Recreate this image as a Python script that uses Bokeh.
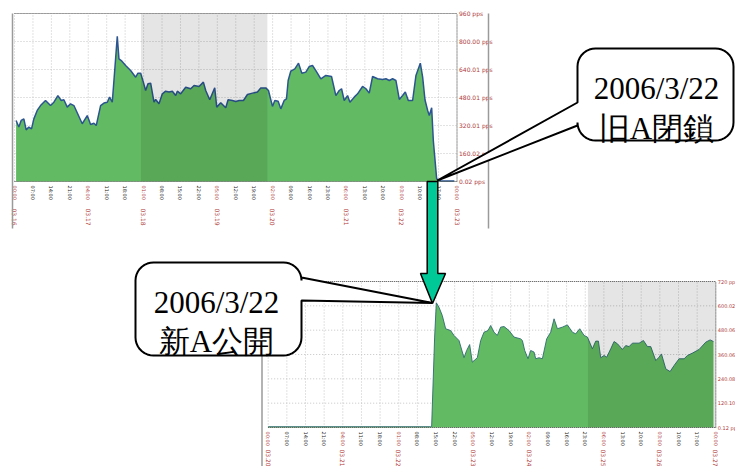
import numpy as np
from bokeh.plotting import figure
from bokeh.models import Range1d
from bokeh.core.properties import value
from bokeh.embed import file_html
from bokeh.resources import INLINE

# ---------------- data ----------------
TOP_HOURS = [0.6, 1.65, 2.53, 3.55, 4.43, 5.45, 6.46, 7.35, 8.62, 9.88, 11.78, 13.68, 14.95, 16.47,
             17.74, 18.75, 20.02, 21.29, 22.55, 25.72, 27.62, 28.89, 30.15, 31.04, 32.69, 33.96,
             35.22, 36.11, 37.12, 38.14, 39.02, 39.66, 40.54, 42.19, 44.09, 45.99, 46.88, 47.89,
             48.91, 49.79, 50.68, 51.69, 52.96, 53.59, 54.86, 56.13, 57.39, 58.66, 59.93, 61.19,
             61.83, 63.10, 65.00, 66.90, 68.17, 70.07, 71.71, 72.60, 74.12, 76.02, 76.78, 78.30,
             80.20, 81.09, 82.73, 84.00, 85.27, 86.92, 88.44, 90.34, 92.24, 93.50, 95.40, 96.42,
             97.94, 98.83, 100.09, 101.11, 102.38, 103.26, 103.90, 104.91, 106.43, 107.83, 109.09,
             110.61, 111.88, 113.14, 114.41, 116.31, 118.21, 120.36, 122.01, 123.28, 124.17,
             125.18, 126.45, 127.34, 128.98, 130.25, 132.15, 133.42, 134.68, 135.95, 137.85,
             139.75, 141.02, 142.29, 143.55, 144.82, 146.09, 147.36, 148.37, 149.51, 151.15,
             152.42, 154.07, 154.96, 155.84, 156.86, 157.49, 158.38, 159.01, 160.28, 161.9, 167.0]
TOP_VALUES = [349, 311, 349, 358, 295, 311, 301, 358, 406, 434, 463, 434, 453, 491,
              463, 467, 425, 444, 434, 330, 377, 326, 333, 320, 434, 448,
              453, 482, 453, 653, 829, 701, 691, 663, 634, 596, 619, 619,
              568, 520, 558, 562, 453, 469, 444, 501, 516, 511, 516, 491,
              516, 501, 539, 530, 549, 543, 568, 520, 467, 535, 425, 450,
              421, 467, 463, 457, 463, 463, 497, 505, 511, 535, 535, 520,
              429, 463, 459, 415, 463, 472, 577, 631, 644, 676, 619,
              625, 657, 663, 634, 587, 606, 600, 491, 520, 530,
              463, 491, 453, 482, 501, 543, 530, 505, 600, 587,
              583, 587, 577, 587, 577, 469, 491, 511, 463, 463,
              606, 676, 596, 467, 406, 377, 421, 234, 15, 3, 3]

BOT_HOURS = [0.0, 60.97, 61.34, 62.47, 63.10, 64.10, 65.35, 66.60, 68.48, 69.73, 71.61, 73.49,
             74.49, 75.61, 76.61, 78.49, 79.75, 81.00, 82.50, 83.50, 84.75, 86.00, 87.26, 88.51,
             90.39, 92.27, 94.77, 95.40, 96.27, 97.52, 98.52, 99.78, 100.40, 101.65, 102.91,
             104.53, 106.04, 107.29, 108.54, 110.42, 112.30, 114.17, 115.43, 116.93, 118.56,
             119.81, 121.68, 122.94, 123.94, 124.81, 126.07, 127.07, 128.57, 129.82, 131.08,
             132.95, 134.20, 135.46, 136.71, 139.21, 140.84, 142.34, 143.59, 145.47, 146.72,
             147.60, 149.23, 150.85, 152.36, 154.23, 156.11, 157.36, 159.24, 161.74, 164.25,
             165.87, 167.12]
BOT_VALUES = [4, 4, 4, 446, 615, 593, 552, 487, 478, 454, 429, 344,
              380, 409, 322, 344, 429, 470, 478, 503, 470, 454, 495, 498,
              478, 446, 437, 429, 380, 339, 380, 372, 339, 344, 339,
              437, 470, 536, 487, 495, 506, 470, 462, 487, 454,
              446, 388, 426, 426, 344, 355, 347, 388, 424, 413,
              385, 404, 399, 416, 416, 429, 399, 399, 330, 347,
              363, 289, 276, 306, 339, 339, 355, 367, 385, 421,
              432, 424]

TICK_HOURS = [0, 7, 14, 21, 28, 35, 42, 49, 56, 63, 70, 77, 84, 91, 98, 105, 112, 119,
              126, 133, 140, 147, 154, 161, 168]
TIME_LABELS = ["00:00", "07:00", "14:00", "21:00", "04:00", "11:00", "18:00", "01:00",
               "08:00", "15:00", "22:00", "05:00", "12:00", "19:00", "02:00", "09:00",
               "16:00", "23:00", "06:00", "13:00", "20:00", "03:00", "10:00", "17:00", "00:00"]
DAY_TICK_IDX = [0, 4, 7, 11, 14, 18, 21, 24]
TOP_DATES = ["03.16", "03.17", "03.18", "03.19", "03.20", "03.21", "03.22", "03.23"]
BOT_DATES = ["03.20", "03.21", "03.22", "03.23", "03.24", "03.25", "03.26", "03.27"]

TOP_Y_TICKS = [0, 160, 320, 480, 640, 800, 960]
TOP_Y_LABELS = ["0.02 pps", "160.02 pps", "320.01 pps", "480.01 pps", "640.01 pps",
                "800.00 pps", "960 pps"]
BOT_Y_TICKS = [0, 120, 240, 360, 480, 600, 720]
BOT_Y_LABELS = ["0.12 pps", "120.10 pps", "240.08 pps", "360.06 pps", "480.06 pps",
                "600.02 pps", "720 pps"]

TOP_WEEKEND = (48, 96)
BOT_WEEKEND = (120, 168)

# ---------------- page geometry (page pixels) ----------------
W, H = 735, 466
PX0, PX1 = 0, W
PY0, PY1 = 0, H

FILL = "#62bb62"
GRID = "#c4c4c4"
RED = "#b03a3a"

p = figure(width=W, height=H, x_range=Range1d(PX0, PX1), y_range=Range1d(PY1, PY0),
           x_axis_type=None, y_axis_type=None, toolbar_location=None,
           output_backend="svg", min_border=0, title=None)
p.outline_line_color = None
p.background_fill_color = "white"
p.border_fill_color = "white"


def fit(d0, d1, q0, q1, lo, hi):
    k = (d1 - d0) / (q1 - q0)
    return Range1d(start=d0 + (lo - q0) * k, end=d0 + (hi - q0) * k)


def chart(name, box, hours, vals, yticks, ylabels, dates, weekend, edge_c, edge_w, date_off,
          ylab_size):
    xl, xr, yb, yt = box
    ymax = yticks[-1]
    p.extra_x_ranges[name] = fit(0, 168, xl, xr, PX0, PX1)
    p.extra_y_ranges[name] = fit(0, ymax, yb, yt, PY1, PY0)
    kw = dict(x_range_name=name, y_range_name=name)
    # grid
    p.segment(x0=TICK_HOURS, x1=TICK_HOURS, y0=0, y1=ymax, line_color=GRID,
              line_dash="1 2", line_width=1, **kw)
    p.segment(x0=0, x1=168, y0=yticks, y1=yticks, line_color=GRID,
              line_dash="1 2", line_width=1, **kw)
    # area
    p.varea(x=hours, y1=0, y2=vals, fill_color=FILL, **kw)
    p.line(x=hours, y=vals, line_color=edge_c, line_width=edge_w, **kw)
    # weekend shading
    p.quad(left=weekend[0], right=weekend[1], bottom=0, top=ymax, fill_color="black",
           fill_alpha=0.1, line_color=None, **kw)
    # borders
    p.segment(x0=[0, 0, 168], x1=[168, 168, 168], y0=[ymax, 0, 0], y1=[ymax, 0, ymax],
              line_color="#555555", line_dash="1 1", line_width=1, **kw)
    # x tick labels
    cols = ["#222222"] * len(TICK_HOURS)
    for i in DAY_TICK_IDX:
        cols[i] = RED
    p.text(x=TICK_HOURS, y=[0] * len(TICK_HOURS), text=TIME_LABELS, angle=-np.pi / 2,
           text_align="left", text_baseline="middle", y_offset=4, text_color=cols,
           text_font_size="5px", text_font=value("DejaVu Sans"), **kw)
    p.text(x=[TICK_HOURS[i] for i in DAY_TICK_IDX], y=[0] * len(dates), text=dates,
           angle=-np.pi / 2, text_align="left", text_baseline="middle", y_offset=date_off,
           text_color=RED, text_font_size="6px", text_font=value("DejaVu Sans"), **kw)
    # y tick labels
    p.text(x=[168] * len(yticks), y=yticks, text=ylabels, x_offset=2, text_align="left",
           text_baseline="middle", text_color=RED, text_font_size=ylab_size,
           text_font=value("DejaVu Sans"), **kw)


chart("top", (14, 456.5, 181, 13), TOP_HOURS, TOP_VALUES, TOP_Y_TICKS, TOP_Y_LABELS,
      TOP_DATES, TOP_WEEKEND, "#2c5590", 1.5, 27, "6px")
chart("bot", (267.7, 715.3, 427, 281), BOT_HOURS, BOT_VALUES, BOT_Y_TICKS, BOT_Y_LABELS,
      BOT_DATES, BOT_WEEKEND, "#2f6a70", 0.9, 22, "5px")

# screenshot frame edges
p.segment(x0=[12, 488, 261.5], x1=[12, 488, 261.5], y0=[13, 13, 279], y1=[228, 228, 470],
          line_color="#9a9a9a", line_width=1.5)

# green arrow
ax = [426.7, 437.3, 437.3, 445, 432, 420, 426.7]
ay = [181, 181, 273, 273, 303, 273, 273]
p.patch(ax, ay, fill_color="#00c896", line_color="black", line_width=1.5)


def callout(x0, y0, x1, y1, r, side, ta, tb, tip):
    xs, ys = [], []

    def arc(cx, cy, a0, a1):
        for a in np.linspace(np.radians(a0), np.radians(a1), 10):
            xs.append(cx + r * np.cos(a))
            ys.append(cy + r * np.sin(a))

    arc(x0 + r, y0 + r, 180, 270)
    arc(x1 - r, y0 + r, 270, 360)
    if side == "right":
        xs.extend([x1, tip[0], x1])
        ys.extend([ta, tip[1], tb])
    arc(x1 - r, y1 - r, 0, 90)
    arc(x0 + r, y1 - r, 90, 180)
    if side == "left":
        xs.extend([x0, tip[0], x0])
        ys.extend([tb, tip[1], ta])
    p.patch(xs, ys, fill_color="white", line_color="black", line_width=2)


SERIF = value("Liberation Serif")

callout(577, 48, 733, 140, 18, "left", 102, 125, (436.7, 180))
p.text(x=[656, 656], y=[88, 128], text=["2006/3/22", "旧A閉鎖"], text_align="center",
       text_baseline="alphabetic", text_font_size="31px", text_font=SERIF, text_color="black")

callout(135, 262, 301, 355, 18, "right", 277, 300, (432, 302.5))
p.text(x=[216, 216], y=[302, 341], text=["2006/3/22", "新A公開"], text_align="center",
       text_baseline="alphabetic", text_font_size="31px", text_font=SERIF, text_color="black")

open("out.html", "w").write(file_html(p, INLINE))
